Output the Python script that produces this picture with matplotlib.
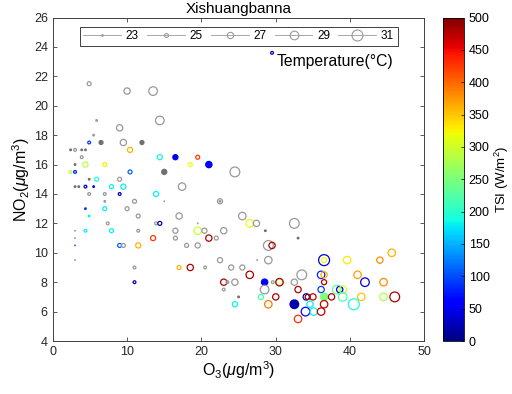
import matplotlib
matplotlib.use("Agg")
import matplotlib.pyplot as plt
import numpy as np
from matplotlib.lines import Line2D
from matplotlib.cm import ScalarMappable
from matplotlib.colors import Normalize

plt.rcParams["font.family"] = ["Liberation Sans", "DejaVu Sans"]
plt.rcParams["mathtext.fontset"] = "custom"
plt.rcParams["mathtext.rm"] = "Liberation Sans"
plt.rcParams["mathtext.it"] = "Liberation Sans:italic"

# O3, NO2, temperature (size), TSI (colour, nan = grey), filled marker
o3 = [5.9, 9.0, 14.4, 5.5, 4.9, 6.5, 9.5, 12.0, 2.4, 3.0,
      3.9, 4.4, 10.4, 3.9, 14.4, 16.5, 19.5, 3.0, 4.4, 7.0,
      18.5, 21.0, 2.4, 3.0, 4.9, 5.9, 9.0, 10.4, 15.0, 24.5,
      3.0, 3.5, 4.4, 5.5, 7.9, 9.5, 17.4, 4.9, 7.0, 9.0,
      13.9, 7.0, 11.0, 15.0, 22.5, 22.5, 4.4, 7.0, 10.0, 4.9,
      11.5, 17.0, 25.5, 7.4, 13.9, 14.4, 19.5, 26.5, 27.4, 32.5,
      3.0, 4.4, 7.9, 11.5, 16.5, 19.5, 20.4, 23.0, 28.6, 3.0,
      13.5, 16.5, 21.0, 22.0, 33.0, 3.0, 9.0, 9.5, 11.5, 18.0,
      19.5, 29.0, 29.5, 3.0, 22.5, 27.5, 29.0, 11.0, 17.0, 18.5,
      20.5, 24.0, 25.5, 26.5, 33.5, 11.0, 23.0, 23.5, 24.5, 28.5,
      29.6, 30.5, 30.5, 32.5, 23.0, 28.5, 33.0, 25.0, 28.0, 30.0,
      24.5, 29.0, 32.5, 33.0, 36.5, 36.5, 39.6, 44.0, 45.6, 36.1,
      36.5, 41.0, 42.0, 44.5, 36.5, 36.1, 38.2, 38.6, 39.0, 36.5,
      39.0, 41.5, 44.5, 46.0, 40.5, 34.1, 34.3, 35.0, 37.5, 36.5,
      34.0, 35.1, 36.1, 34.6, 29.5, 4.9, 10.0, 13.5]
no2 = [19.0, 18.5, 19.0, 18.0, 17.5, 17.5, 17.5, 17.5, 17.0, 17.0,
       17.0, 17.0, 17.0, 16.5, 16.5, 16.5, 16.5, 16.0, 16.0, 16.0,
       16.0, 16.0, 15.5, 15.5, 15.0, 15.0, 15.0, 15.5, 15.5, 15.5,
       14.5, 14.5, 14.5, 14.5, 14.5, 14.5, 14.5, 14.0, 14.0, 14.0,
       14.0, 13.5, 13.5, 13.5, 13.5, 13.5, 13.0, 13.0, 13.0, 12.5,
       12.5, 12.5, 12.5, 12.0, 12.0, 12.0, 12.0, 12.0, 12.0, 12.0,
       11.5, 11.5, 11.5, 11.5, 11.5, 11.5, 11.5, 11.5, 11.5, 11.0,
       11.0, 11.0, 11.0, 11.0, 11.0, 10.5, 10.5, 10.5, 10.5, 10.5,
       10.5, 10.5, 10.5, 9.5, 9.5, 9.5, 9.5, 9.0, 9.0, 9.0,
       9.0, 9.0, 9.0, 8.5, 8.5, 8.0, 8.0, 8.0, 8.0, 8.0,
       8.0, 8.0, 8.0, 8.0, 7.5, 7.5, 7.5, 7.0, 7.0, 7.0,
       6.5, 6.5, 6.5, 5.5, 9.5, 9.5, 9.5, 9.5, 10.0, 8.5,
       8.5, 8.5, 8.0, 8.0, 8.0, 7.5, 7.5, 7.5, 7.5, 7.0,
       7.0, 7.0, 7.0, 7.0, 6.5, 7.0, 7.0, 7.0, 7.0, 6.5,
       6.0, 6.0, 6.0, 6.5, 23.6, 21.5, 21.0, 21.0]
temp = [23, 27, 29, 23, 24, 25, 27, 25, 23, 24,
        23, 23, 26, 24, 26, 26, 25, 23, 26, 25,
        25, 27, 24, 24, 23, 25, 25, 25, 26, 30,
        23, 23, 24, 23, 25, 26, 28, 24, 24, 24,
        26, 23, 25, 22, 26, 23, 23, 25, 25, 23,
        25, 27, 28, 24, 24, 25, 22, 28, 27, 30,
        22, 24, 25, 24, 26, 28, 26, 27, 23, 22,
        26, 25, 27, 25, 23, 22, 25, 25, 26, 25,
        26, 30, 27, 22, 26, 22, 28, 24, 25, 27,
        24, 26, 26, 28, 30, 24, 27, 24, 27, 27,
        24, 27, 28, 27, 24, 29, 27, 23, 26, 27,
        26, 28, 29, 28, 31, 26, 28, 27, 28, 28,
        27, 28, 29, 28, 26, 27, 29, 27, 28, 28,
        29, 28, 28, 30, 31, 27, 26, 27, 27, 28,
        29, 28, 28, 27, 24, 25, 27, 29]
nan = np.nan
tsi = [nan, nan, nan, nan, 90, nan, nan, nan, nan, nan,
       nan, nan, 360, nan, 185, 50, 425, nan, 290, 330,
       320, 60, 290, 80, nan, 190, nan, 110, nan, nan,
       nan, nan, 30, 50, 180, 180, nan, nan, nan, 30,
       180, nan, nan, nan, nan, nan, 90, 180, nan, 180,
       nan, nan, nan, nan, nan, 30, nan, 320, nan, nan,
       nan, 180, 180, nan, nan, 300, nan, nan, nan, nan,
       425, nan, 480, nan, nan, 30, 110, nan, 360, nan,
       nan, nan, 480, nan, nan, nan, nan, nan, 360, 480,
       nan, nan, nan, 480, nan, 30, 480, nan, nan, 60,
       nan, 280, 480, nan, nan, nan, 480, nan, 220, 480,
       180, 390, 20, 430, 40, 320, 330, 380, 360, 80,
       360, 370, 40, 380, 480, 90, 230, 40, 300, 250,
       220, 350, 280, 480, 190, 20, 490, 470, 480, 470,
       60, 180, 470, 180, 30, nan, nan, nan]
filled = [0, 0, 0, 0, 0, 1, 0, 1, 1, 0,
          1, 1, 0, 0, 0, 1, 0, 1, 0, 0,
          0, 1, 0, 0, 1, 0, 0, 0, 1, 0,
          1, 1, 0, 0, 0, 0, 0, 0, 0, 0,
          0, 0, 0, 1, 0, 0, 1, 0, 0, 0,
          0, 0, 0, 0, 0, 0, 1, 0, 0, 0,
          1, 0, 0, 0, 0, 0, 0, 0, 1, 1,
          0, 0, 0, 0, 1, 1, 0, 0, 0, 0,
          0, 0, 0, 1, 0, 1, 0, 0, 0, 0,
          0, 0, 0, 0, 0, 0, 0, 0, 0, 1,
          0, 0, 0, 0, 0, 0, 0, 1, 0, 0,
          0, 0, 1, 0, 0, 0, 0, 0, 0, 0,
          0, 0, 0, 0, 0, 0, 0, 0, 0, 1,
          0, 0, 0, 0, 0, 0, 0, 0, 0, 0,
          0, 0, 0, 0, 0, 0, 0, 0]

legend_temps = [23, 25, 27, 29, 31]
cbar_ticks = list(range(0, 501, 50))


def marker_size(t):
    return (0.84 * (np.asarray(t, dtype=float) - 21.6)) ** 2


def main():
    fig = plt.figure(figsize=(5.12, 3.94), dpi=100)
    ax = fig.add_axes([0.103, 0.1345, 0.726, 0.821])
    cax = fig.add_axes([0.865, 0.1345, 0.041, 0.821])

    cmap = plt.get_cmap("jet")
    norm = Normalize(0, 500)

    x = np.array(o3)
    y = np.array(no2)
    t = np.array(temp)
    c = np.array(tsi, dtype=float)
    f = np.array(filled, dtype=bool)

    edge = []
    for val, fl in zip(c, f):
        if np.isnan(val):
            edge.append((0.44, 0.44, 0.44, 1) if fl else (0.6, 0.6, 0.6, 1))
        else:
            edge.append(cmap(norm(val)))
    edge = np.array(edge)
    face = np.array([e if fl else (0, 0, 0, 0) for e, fl in zip(edge, f)])

    ax.scatter(x, y, s=marker_size(t), facecolors=face, edgecolors=edge,
               linewidths=0.9, zorder=3)

    ax.set_xlim(0, 50)
    ax.set_ylim(4, 26)
    ax.set_xticks(range(0, 51, 10))
    ax.set_yticks(range(4, 27, 2))
    ax.tick_params(direction="in", top=True, right=True, labelsize=9,
                   length=3, width=0.6, color="#404040", labelcolor="#262626")
    for sp in ax.spines.values():
        sp.set_color("#404040")
        sp.set_linewidth(0.7)

    ax.set_xlabel(r"O$_3$($\mu$g/m$^3$)", fontsize=11.5, labelpad=1)
    ax.set_ylabel(r"NO$_2$($\mu$g/m$^3$)", fontsize=11.5, labelpad=1)
    ax.set_title("Xishuangbanna", fontsize=11, pad=3)

    handles = [Line2D([0], [0], color="#999999", lw=0.6, marker="o",
                      markerfacecolor="none", markeredgecolor="#999999",
                      markeredgewidth=0.8, markersize=np.sqrt(marker_size(tt)))
               for tt in legend_temps]
    leg = ax.legend(handles, [str(tt) for tt in legend_temps], ncol=5,
                    loc="upper center", bbox_to_anchor=(0.5, 0.972),
                    fontsize=8.5, frameon=True, fancybox=False,
                    handlelength=3.2, handletextpad=0.4, columnspacing=0.7,
                    borderpad=0.3, borderaxespad=0, edgecolor="#404040",
                    framealpha=1)
    leg.get_frame().set_linewidth(0.7)

    ax.text(0.603, 0.865, "Temperature(\u00b0C)", transform=ax.transAxes,
            fontsize=11.3, va="center", ha="left")

    sm = ScalarMappable(norm=norm, cmap=cmap)
    cb = fig.colorbar(sm, cax=cax, ticks=cbar_ticks)
    cb.outline.set_linewidth(0.6)
    cb.ax.tick_params(direction="in", labelsize=9, length=2, width=0.5)
    cb.set_label("TSI (W/m$^2$)", fontsize=9.5, labelpad=2)

    fig.savefig("out.png", dpi=100)


if __name__ == "__main__":
    main()
